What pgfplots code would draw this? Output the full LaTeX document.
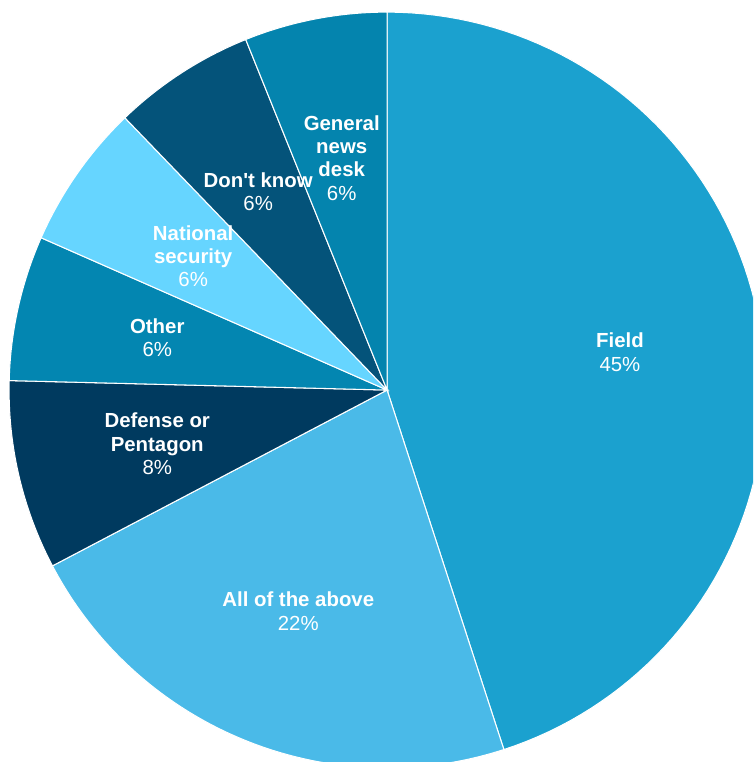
\documentclass[border=0pt]{standalone}
\usepackage{pgfplots}
\pgfplotsset{compat=1.18}
\usepackage{fontspec}
\setmainfont{Liberation Sans}

\definecolor{cField}{HTML}{1BA1CF}
\definecolor{cAll}{HTML}{4ABAE8}
\definecolor{cDef}{HTML}{003A5F}
\definecolor{cOther}{HTML}{0386B1}
\definecolor{cNat}{HTML}{66D5FF}
\definecolor{cDont}{HTML}{04537A}
\definecolor{cGen}{HTML}{0484AE}

% shares (%): Field 45, All of the above 22.3, Defense or Pentagon 8.1,
% Other 6.2, National security 6.2, Don't know 6.1, General news desk 6.1
% slices run clockwise from the top; angle = 3.6 * share

\begin{document}
\begin{tikzpicture}
\begin{axis}[
hide axis,
scale only axis,
width=7.53cm,
height=7.62cm,
xmin=-1.024, xmax=0.968,
ymin=-0.984, ymax=1.032,
clip=true,
samples=90,
every axis plot/.append style={draw=white, line width=0.3pt},
nodes={font=\fontsize{5.8}{6.66}\selectfont, text=white, align=center},
]
\addplot [fill=cField, domain=-72:90] ({cos(x)},{sin(x)}) -- (0,0) -- cycle;
\addplot [fill=cAll, domain=-152.28:-72] ({cos(x)},{sin(x)}) -- (0,0) -- cycle;
\addplot [fill=cDef, domain=-181.44:-152.28] ({cos(x)},{sin(x)}) -- (0,0) -- cycle;
\addplot [fill=cOther, domain=-203.76:-181.44] ({cos(x)},{sin(x)}) -- (0,0) -- cycle;
\addplot [fill=cNat, domain=-226.08:-203.76] ({cos(x)},{sin(x)}) -- (0,0) -- cycle;
\addplot [fill=cDont, domain=-248.04:-226.08] ({cos(x)},{sin(x)}) -- (0,0) -- cycle;
\addplot [fill=cGen, domain=-270:-248.04] ({cos(x)},{sin(x)}) -- (0,0) -- cycle;

\node at (axis cs:0.616,0.100) {\textbf{Field}\\45\%};
\node at (axis cs:-0.235,-0.585) {\textbf{All of the above}\\22\%};
\node at (axis cs:-0.608,-0.143) {\textbf{Defense or}\\\textbf{Pentagon}\\8\%};
\node at (axis cs:-0.608,0.138) {\textbf{Other}\\6\%};
\node at (axis cs:-0.513,0.354) {\textbf{National}\\\textbf{security}\\6\%};
\node at (axis cs:-0.341,0.524) {\textbf{Don\textquotesingle t know}\\6\%};
\node at (axis cs:-0.120,0.614) {\textbf{General}\\\textbf{news}\\\textbf{desk}\\6\%};
\end{axis}
\path (current axis.south west) rectangle (current axis.north east);
\end{tikzpicture}
\end{document}
